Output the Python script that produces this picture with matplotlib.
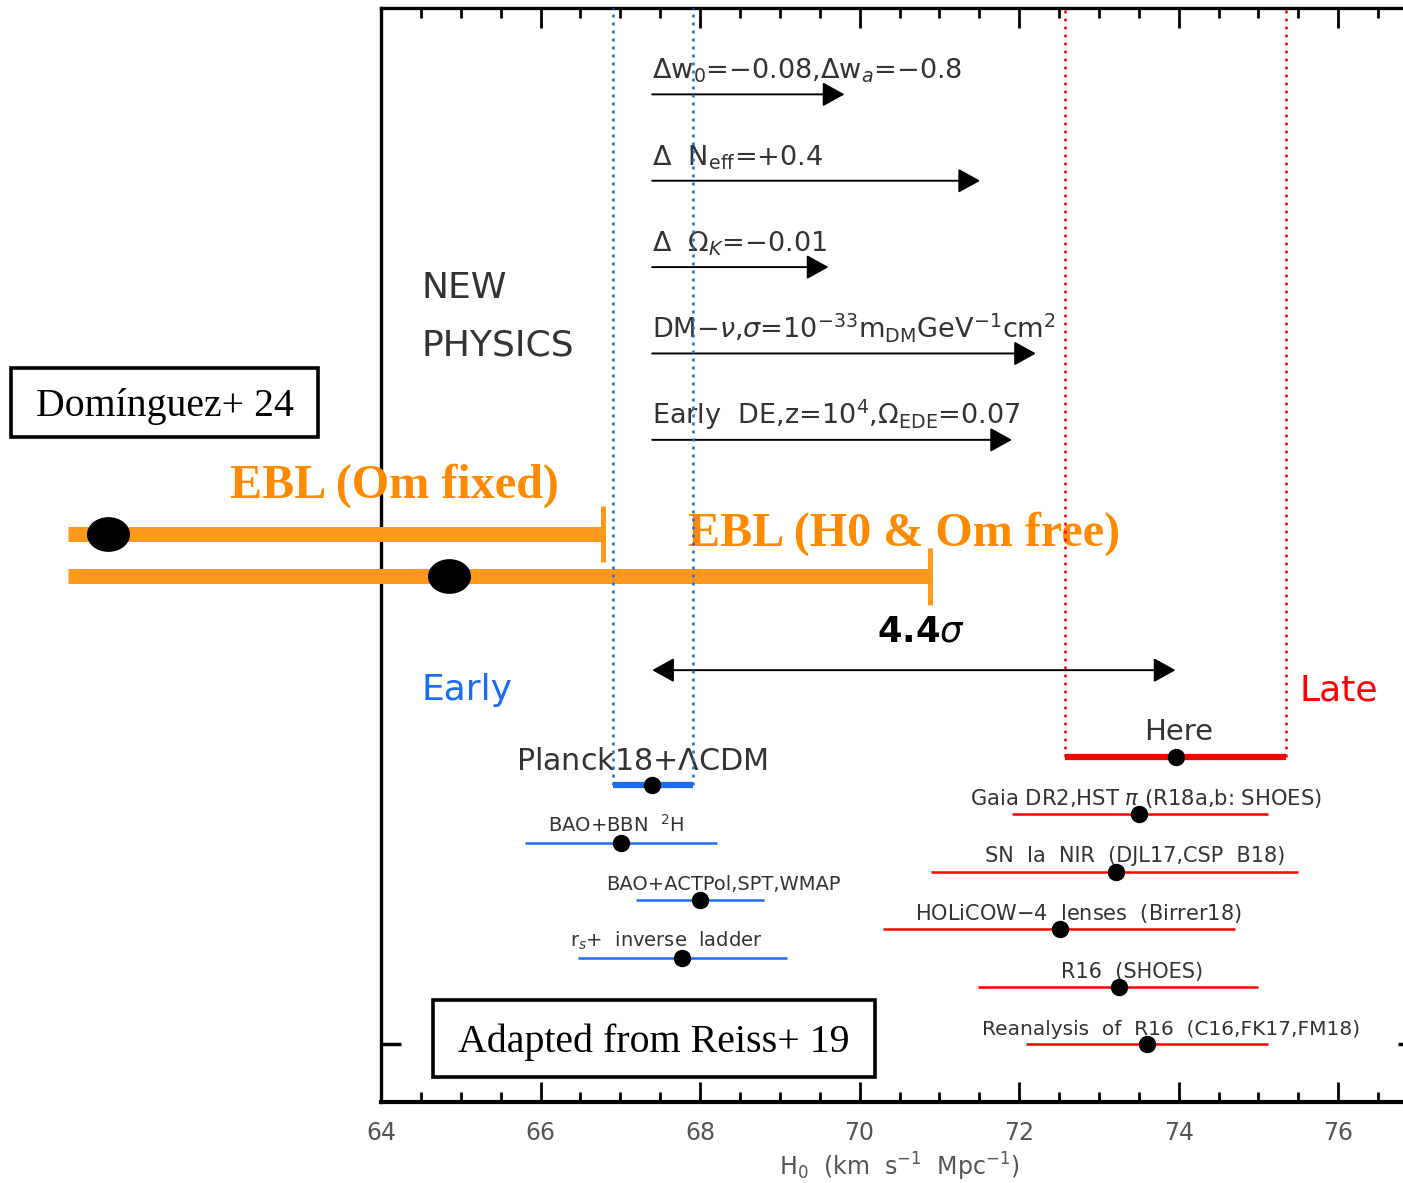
import matplotlib
matplotlib.use("Agg")
import matplotlib.pyplot as plt
from matplotlib.path import Path
from matplotlib.transforms import Affine2D
from matplotlib.patches import Rectangle

# ---------------- data ----------------
late_labels = ["Gaia DR2,HST $\\pi$ (R18a,b: SHOES)", "SN  Ia  NIR  (DJL17,CSP  B18)",
               "HOLiCOW$-$4  lenses  (Birrer18)", "R16  (SHOES)",
               "Reanalysis  of  R16  (C16,FK17,FM18)"]
late_h0 = [73.50, 73.21, 72.51, 73.25, 73.60]
late_lo = [71.91, 70.90, 70.29, 71.49, 72.08]
late_hi = [75.12, 75.50, 74.71, 74.99, 75.12]
late_y = [5.0, 4.0, 3.0, 2.0, 1.0]
late_lab_x = [73.59, 73.46, 72.74, 73.41, 73.91]
late_lab_fs = [15.2, 15.0, 15.0, 15.0, 14.5]

early_labels = ["BAO+BBN  $^2$H", "BAO+ACTPol,SPT,WMAP", "r$_s$+  inverse  ladder"]
early_h0 = [67.01, 68.00, 67.77]
early_lo = [65.80, 67.20, 66.47]
early_hi = [68.21, 68.80, 69.09]
early_y = [4.5, 3.5, 2.5]
early_lab_x = [66.95, 68.29, 67.58]

here_h0, here_lo, here_hi, here_y = 73.96, 72.58, 75.35, 6.0
planck_h0, planck_lo, planck_hi, planck_y = 67.40, 66.91, 67.91, 5.5

np_labels = ["$\\Delta$w$_0$=$-$0.08,$\\Delta$w$_a$=$-$0.8",
             "$\\Delta$  N$_{\\rm eff}$=+0.4",
             "$\\Delta$  $\\Omega_K$=$-$0.01",
             "DM$-\\nu$,$\\sigma$=10$^{-33}$m$_{\\rm DM}$GeV$^{-1}$cm$^2$",
             "Early  DE,z=10$^4$,$\\Omega_{\\rm EDE}$=0.07"]
np_end = [69.81, 71.51, 69.61, 72.21, 71.91]
np_y = [17.5, 16.0, 14.5, 13.0, 11.5]
np_start = 67.40

ebl_labels = ["EBL (Om fixed)", "EBL (H0 & Om free)"]
ebl_h0 = [60.58, 64.85]
ebl_lo = [60.08, 60.08]
ebl_hi = [66.78, 70.88]
ebl_y = [9.86, 9.13]
ebl_lab_x = [62.11, 67.85]
ebl_lab_y = [10.50, 9.67]

xticks_major = [64, 66, 68, 70, 72, 74, 76]

# ---------------- figure ----------------
W, H = 1403, 1183
fig = plt.figure(figsize=(W / 100, H / 100), dpi=100)
ax = fig.add_axes([381 / W, (H - 1102) / H, (1418 - 381) / W, (1102 - 8) / H])
ax.set_xlim(64, 77)
ax.set_ylim(0, 19)

txtc = "#333333"
blue = "#1a6cf0"
red = "#ff0000"
orange = "#fd991c"
orange_t = "#ff8a00"

for s in ["left", "top", "bottom", "right"]:
    ax.spines[s].set_linewidth(2.4)
ax.spines["bottom"].set_linewidth(3.0)
ax.spines["right"].set_visible(False)

ax.set_xticks(xticks_major)
ax.set_xticks([x / 2 for x in range(128, 155)], minor=True)
ax.tick_params(axis="x", which="major", direction="in", length=14.5, width=2.0,
               top=True, bottom=True, labelsize=17, labelcolor="#555555", pad=14)
ax.tick_params(axis="x", which="minor", direction="in", length=7.5, width=2.0,
               top=True, bottom=True)
ax.set_yticks([1.0])
ax.set_yticklabels([])
ax.tick_params(axis="y", direction="in", length=14.5, width=2.5, left=True, right=True)
ax.set_xlabel("H$_0$  (km  s$^{-1}$  Mpc$^{-1}$)", fontsize=17, color="#555555", labelpad=4)

# late measurements
for lab, h, lo, hi, y, lx, fs in zip(late_labels, late_h0, late_lo, late_hi, late_y,
                                     late_lab_x, late_lab_fs):
    ax.plot([lo, hi], [y, y], color=red, lw=1.8, solid_capstyle="butt", zorder=3)
    ax.plot([h], [y], "o", color="black", ms=11.5, zorder=4)
    ax.text(lx, y + 0.16, lab, ha="center", va="baseline", fontsize=fs, color=txtc)

# early measurements
for lab, h, lo, hi, y, lx in zip(early_labels, early_h0, early_lo, early_hi, early_y, early_lab_x):
    ax.plot([lo, hi], [y, y], color=blue, lw=1.8, solid_capstyle="butt", zorder=3)
    ax.plot([h], [y], "o", color="black", ms=11.5, zorder=4)
    ax.text(lx, y + 0.19, lab, ha="center", va="baseline", fontsize=14, color=txtc)

# Here & Planck
ax.plot([here_lo, here_hi], [here_y, here_y], color=red, lw=4.5, solid_capstyle="butt", zorder=3)
ax.plot([here_h0], [here_y], "o", color="black", ms=11.5, zorder=4)
ax.text(here_h0 + 0.04, here_y + 0.28, "Here", ha="center", va="baseline", fontsize=21, color=txtc)
ax.plot([planck_lo, planck_hi], [planck_y, planck_y], color=blue, lw=4.5, solid_capstyle="butt", zorder=3)
ax.plot([planck_h0], [planck_y], "o", color="black", ms=11.5, zorder=4)
ax.text(planck_h0 - 0.13, planck_y + 0.26, "Planck18+$\\Lambda$CDM", ha="center", va="baseline",
        fontsize=21.7, color=txtc)

# dotted bands
for xv in [planck_lo, planck_hi]:
    ax.plot([xv, xv], [planck_y, 19], color=blue, lw=1.8, ls=(0, (1.2, 2.0)), zorder=6)
for xv in [here_lo, here_hi]:
    ax.plot([xv, xv], [here_y, 19], color=red, lw=1.8, ls=(0, (1.2, 2.0)), zorder=6)

# new physics arrows
for lab, xe, y in zip(np_labels, np_end, np_y):
    ax.annotate("", xy=(xe, y), xytext=(np_start, y),
                arrowprops=dict(arrowstyle="-|>,head_length=0.9,head_width=0.5",
                                color="black", lw=1.4, mutation_scale=15, shrinkA=0, shrinkB=0))
    ax.text(np_start, y + 0.27, lab, ha="left", va="baseline", fontsize=19.5, color=txtc)

ax.text(64.51, 13.96, "NEW", ha="left", va="baseline", fontsize=26, color=txtc)
ax.text(64.51, 12.97, "PHYSICS", ha="left", va="baseline", fontsize=26, color=txtc)
ax.text(64.51, 6.98, "Early", ha="left", va="baseline", fontsize=26, color=blue)
ax.text(75.52, 6.98, "Late", ha="left", va="baseline", fontsize=26, color=red)

# tension arrow
ax.annotate("", xy=(here_h0, 7.5), xytext=(planck_h0, 7.5),
            arrowprops=dict(arrowstyle="<|-|>,head_length=0.9,head_width=0.5",
                            color="black", lw=1.4, mutation_scale=15, shrinkA=0, shrinkB=0))
ax.text(70.22, 8.0, "4.4$\\sigma$", ha="left", va="baseline", fontsize=25.5, color="black",
        fontweight="bold")

# EBL bars
ell = Path.unit_circle().transformed(Affine2D().scale(1.25, 1.0))
for lab, h, lo, hi, y, lx, ly in zip(ebl_labels, ebl_h0, ebl_lo, ebl_hi, ebl_y, ebl_lab_x, ebl_lab_y):
    ax.plot([lo, hi], [y, y], color=orange, lw=10.8, solid_capstyle="butt", zorder=4, clip_on=False)
    ax.plot([hi, hi], [y - 0.49, y + 0.49], color=orange, lw=3.6, solid_capstyle="butt", zorder=4,
            clip_on=False)
    ax.plot([h], [y], marker=ell, color="black", ms=30, ls="none", zorder=5, clip_on=False)
    ax.text(lx, ly, lab, ha="left", va="baseline", fontsize=34.7, color=orange_t, fontweight="bold",
            family="Liberation Serif", clip_on=False, zorder=5)

# boxes
def box(x0, y0, x1, y1, label, fs):
    fig.patches.append(Rectangle((x0 / W, 1 - y1 / H), (x1 - x0) / W, (y1 - y0) / H,
                                 transform=fig.transFigure, fill=True, facecolor="white",
                                 edgecolor="black", lw=2.6, zorder=10))
    fig.text((x0 + x1) / 2 / W, 1 - ((y0 + y1) / 2 + 4) / H, label, ha="center", va="center",
             fontsize=fs, family="Liberation Serif", color="black", zorder=11)

box(11, 368, 318, 437, "Domínguez+ 24", 28.6)
box(433, 1000, 875, 1077, "Adapted from Reiss+ 19", 28.7)

fig.savefig("out.png", dpi=100)
